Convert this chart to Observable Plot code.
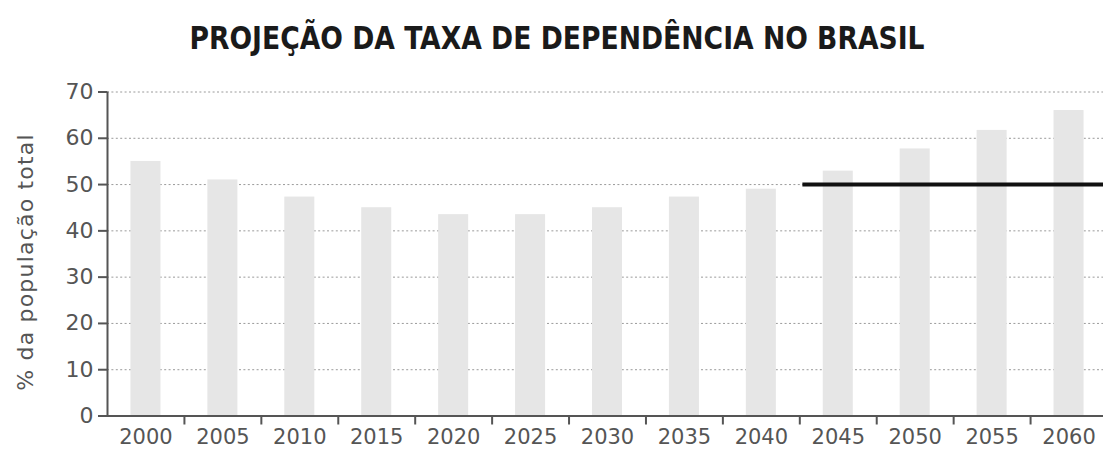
<!DOCTYPE html>
<html>
<head>
<meta charset="utf-8">
<script src="https://cdn.jsdelivr.net/npm/d3@7"></script>
<script src="https://cdn.jsdelivr.net/npm/@observablehq/plot@0.6"></script>
<style>
  html, body { margin: 0; padding: 0; background: #fff; }
  #wrap { position: relative; width: 1103px; height: 459px; overflow: hidden; }
  #title {
    position: absolute; left: 0; top: 22px; width: 1114px; text-align: center;
    font-family: "Liberation Sans Narrow", "DejaVu Sans Condensed", "Liberation Sans", sans-serif;
    font-weight: bold; font-size: 32px; line-height: 32px; color: #1a1a1a;
    transform: scaleX(0.925); transform-origin: 557px 0;
  }
  #chart { position: absolute; left: 0; top: 0; }
</style>
</head>
<body>
<div id="wrap">
  <div id="chart"></div>
  <div id="title">PROJEÇÃO DA TAXA DE DEPENDÊNCIA NO BRASIL</div>
</div>
<script>
// Data
const years  = [2000, 2005, 2010, 2015, 2020, 2025, 2030, 2035, 2040, 2045, 2050, 2055, 2060];
const values = [55, 51, 47.3, 45, 43.5, 43.5, 45, 47.3, 49, 52.9, 57.7, 61.7, 66];
const yTicks = [0, 10, 20, 30, 40, 50, 60, 70];
const gridValues = [10, 20, 30, 40, 50, 60, 70];
const refLine = [{value: 50, from: 2045, to: 2060}];
const yLabel = "% da população total";

const data = years.map((year, i) => ({year, value: values[i]}));
const halfStep = 2.5;               // half of the 5-year spacing between categories
const halfBar = 0.975;              // bar half width in year units
const bounds = years.slice(0, -1).map(y => y + halfStep);

const axisColor = "#555";

const chart = Plot.plot({
  width: 1103,
  height: 459,
  marginTop: 91.5,
  marginBottom: 43.5,
  marginLeft: 107,
  marginRight: 0,
  style: {fontFamily: "'DejaVu Sans', sans-serif", background: "transparent", overflow: "hidden"},
  x: {domain: [years[0] - halfStep, years[years.length - 1] + halfStep], range: [107, 1107]},
  y: {domain: [0, 70]},
  marks: [
    Plot.ruleY(gridValues, {stroke: "#9a9a9a", strokeWidth: 1, strokeDasharray: "2,2.4"}),
    Plot.rectY(data, {x1: d => d.year - halfBar, x2: d => d.year + halfBar, y: "value", fill: "#e6e6e6"}),
    Plot.ruleY(refLine, {y: "value", x1: d => d.from - 2.3, x2: d => d.to + halfStep, stroke: "#111", strokeWidth: 4}),
    Plot.ruleX([years[0] - halfStep], {stroke: axisColor, strokeWidth: 2}),
    Plot.ruleY([0], {stroke: axisColor, strokeWidth: 2}),
    Plot.axisY({ticks: yTicks, tickSize: 9, tickPadding: 5, fontSize: 22, color: axisColor, strokeWidth: 2, label: null, tickFormat: d => String(d)}),
    Plot.axisX({ticks: bounds, tickSize: 9, tickFormat: () => "", color: axisColor, strokeWidth: 2, label: null}),
    Plot.axisX({ticks: years, tickSize: 0, tickPadding: 13, fontSize: 21, color: axisColor, label: null, tickFormat: d => String(d)}),
    Plot.text([yLabel], {frameAnchor: "left", textAnchor: "middle", rotate: -90, dx: -82, dy: 8, fontSize: 22, fill: axisColor})
  ]
});
d3.select(chart).selectAll("text").filter(function() { return this.textContent === yLabel; })
  .style("letter-spacing", "1.2px");
document.getElementById("chart").appendChild(chart);
</script>
</body>
</html>
